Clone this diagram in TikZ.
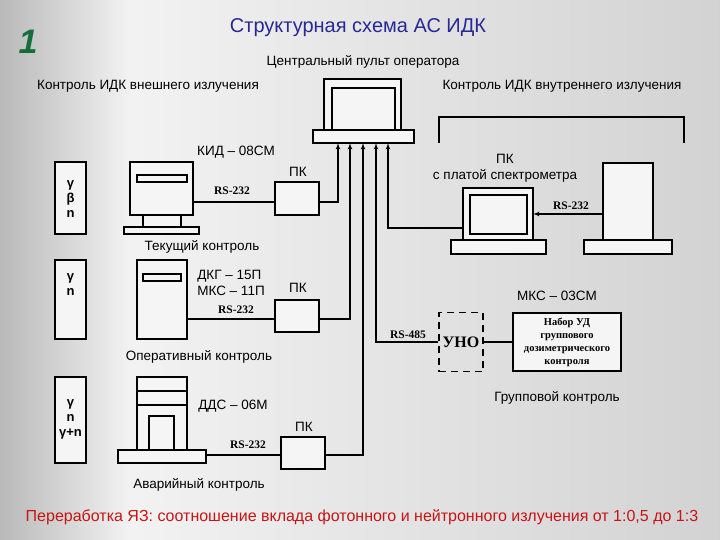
\documentclass[tikz,border=0pt]{standalone}
\usepackage{fontspec}
\setmainfont{Liberation Sans}
\newfontfamily\serifb{Liberation Serif}
\usetikzlibrary{arrows,positioning,calc}
\definecolor{titleblue}{RGB}{40,40,150}
\definecolor{numgreen}{RGB}{20,110,60}
\definecolor{redtxt}{RGB}{200,20,20}
\tikzset{
box/.style = {draw, line width=1.2pt, fill=white!92!gray},
lbl/.style = {inner sep=0pt, font=\fontsize{13.5}{16}\selectfont},
rs/.style = {inner sep=0pt, font=\fontsize{11.5}{13}\selectfont\bfseries\serifb},
rad/.style = {align=center, inner sep=0pt, font=\fontsize{13}{15}\selectfont\bfseries},
wire/.style = {line width=1.2pt},
tip/.style = {wire, ->, >=latex'}
}
\begin{document}
\begin{tikzpicture}[x=1pt,y=-1pt]
\useasboundingbox (0,0) rectangle (720,540);
\shade[left color=gray!55, right color=gray!10] (0,0) rectangle (130,540);
\shade[left color=gray!10, right color=gray!35] (130,0) rectangle (720,540);
% titles
\node[font=\fontsize{34}{36}\selectfont\itshape\bfseries, text=numgreen] (num) at (28,42) {1};
\node[font=\fontsize{20}{22}\selectfont, text=titleblue] (title) at (358,28) {Структурная схема АС ИДК};
\node[lbl] (cpo) at (363,62) {Центральный пульт оператора};
\node[lbl] (ext) at (148,86) {Контроль ИДК внешнего излучения};
\node[lbl] (int) at (562,86) {Контроль ИДК внутреннего излучения};
% central console
\draw[box] (324,79) rectangle (401,130);
\draw[box] (332,88) rectangle (395,130);
\draw[box] (313,130) rectangle (414,143);
\coordinate (c1) at (338,143);
\coordinate (c2) at (350,143);
\coordinate (c3) at (363,143);
\coordinate (c4) at (376,143);
\coordinate (c5) at (388,143);
\draw[wire] (439,143) -- (439,117) -- (684,117) -- (684,143);
% radiation boxes
\draw[box] (55,162) rectangle (86,234);
\node[rad] (r1) at (70.5,199) {γ\\β\\n};
\draw[box] (55,260) rectangle (86,339);
\node[rad] (r2) at (70.5,285) {γ\\n};
\draw[box] (55,377) rectangle (86,463);
\node[rad] (r3) at (70.5,419) {γ\\n\\γ+n};
% KID-08SM
\draw[box] (130,162) rectangle (193,215);
\draw[box] (137,175) rectangle (187,182);
\draw[box] (143,215) rectangle (181,227);
\draw[box] (124,227) rectangle (199,234);
\coordinate (kid) at (193,202);
\node[box, minimum width=44pt, minimum height=33pt] (pk1) at (297,198.5) {};
\node[lbl] at (236,152) {КИД – 08СМ};
\node[lbl] at (298,172) {ПК};
\node[rs] at (232,191) {RS-232};
\node[lbl] at (202,247) {Текущий контроль};
% DKG
\draw[box] (137,260) rectangle (187,339);
\draw[box] (143,274) rectangle (181,281);
\coordinate (dkg) at (187,319);
\node[box, minimum width=44pt, minimum height=32pt] (pk2) at (297,316) {};
\node[lbl, align=left] at (231,283) {ДКГ – 15П\\МКС – 11П};
\node[lbl] at (298,288) {ПК};
\node[rs] at (236,310) {RS-232};
\node[lbl] at (199,357) {Оперативный контроль};
% DDS
\draw[box] (137,377) rectangle (187,455);
\draw[wire] (137,391) -- (187,391);
\draw[wire] (137,405) -- (187,405);
\draw[box] (149,416) rectangle (174,455);
\draw[box] (118,450) rectangle (206,463);
\coordinate (dds) at (206,455);
\node[box, minimum width=44pt, minimum height=32pt] (pk3) at (303,453) {};
\node[lbl] at (233,406) {ДДС – 06М};
\node[lbl] at (304,427) {ПК};
\node[rs] at (248,445) {RS-232};
\node[lbl] at (199,485) {Аварийный контроль};
% spectrometer PC
\draw[box] (463,188) rectangle (533,240);
\draw[box] (470,195) rectangle (527,234);
\draw[box] (451,240) rectangle (546,254);
\coordinate (lap) at (463,228);
\coordinate (lapr) at (533,214);
\draw[box] (603,163) rectangle (653,240);
\draw[box] (584,240) rectangle (672,254);
\coordinate (det) at (603,214);
\node[lbl, align=center] at (505,168) {ПК\\с платой спектрометра};
\node[rs] at (571,206) {RS-232};
% group control
\node[draw, line width=1.2pt, dash pattern=on 7pt off 5pt, minimum width=44pt, minimum height=59pt, inner sep=1pt, font=\fontsize{16}{17}\selectfont\bfseries\serifb] (uno) at (461,342) {УНО};
\node[box, minimum width=108pt, minimum height=58pt, inner sep=1pt, align=center, font=\fontsize{10.5}{13}\selectfont\bfseries\serifb] (ud) at (567,342) {Набор УД\\группового\\дозиметрического\\контроля};
\node[lbl] at (557,296) {МКС – 03СМ};
\node[rs] at (408,335) {RS-485};
\node[lbl] at (557,398) {Групповой контроль};
% connectors
\draw[wire] (kid) -- (kid -| pk1.west);
\draw[tip] (pk1.east |- kid) -| (c1);
\draw[wire] (dkg) -- (dkg -| pk2.west);
\draw[tip] (pk2.east |- dkg) -| (c2);
\draw[wire] (dds) -- (dds -| pk3.west);
\draw[tip] (pk3.east |- dds) -| (c3);
\draw[tip] (uno.west) -| (c4);
\draw[tip] (lap) -| (c5);
\draw[tip] (det) -- (lapr);
\draw[wire] (uno.east) -- (ud.west);
\node[font=\fontsize{16}{18}\selectfont, text=redtxt] (foot) at (362,517) {Переработка ЯЗ: соотношение вклада фотонного и нейтронного излучения от 1:0,5 до 1:3};
\end{tikzpicture}
\end{document}
